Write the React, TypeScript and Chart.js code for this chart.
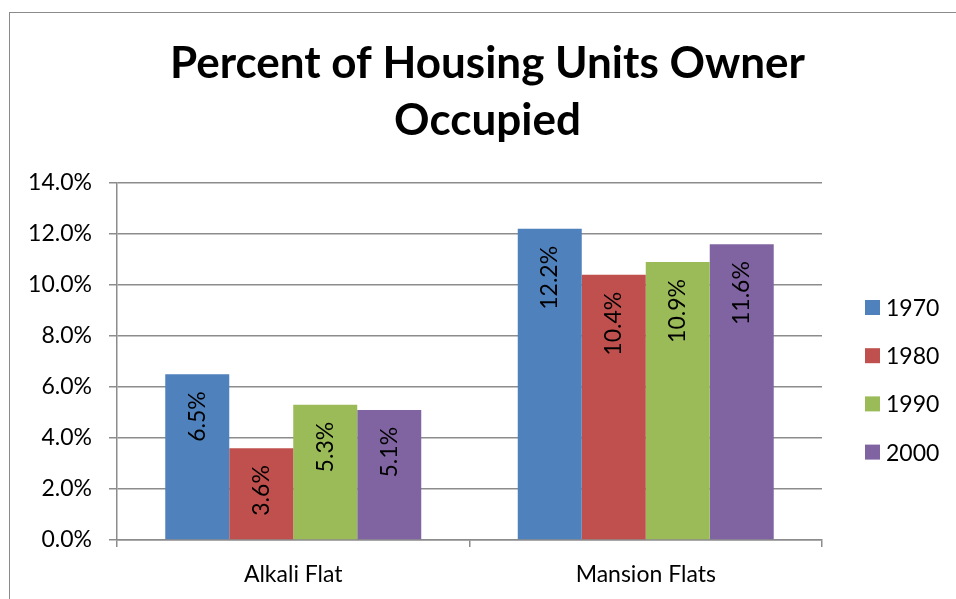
import React, { useEffect, useRef } from 'react';
import { Chart, registerables } from 'chart.js';

Chart.register(...registerables);

const categories = ['Alkali Flat', 'Mansion Flats'];
const seriesNames = ['1970', '1980', '1990', '2000'];
const values1970 = [6.5, 12.2];
const values1980 = [3.6, 10.4];
const values1990 = [5.3, 10.9];
const values2000 = [5.1, 11.6];
const seriesValues = [values1970, values1980, values1990, values2000];
const seriesColors = ['#4F81BD', '#C0504D', '#9BBB59', '#8064A2'];
const titleLines = ['Percent of Housing Units Owner', 'Occupied'];
const yMin = 0;
const yMax = 14;
const yStep = 2;

const FONT = 'Lato, "Noto Sans", sans-serif';
const GRID = '#8c8c8c';

const valueLabels = {
  id: 'valueLabels',
  afterDatasetsDraw(chart: any) {
    const ctx = chart.ctx;
    chart.data.datasets.forEach((ds: any, i: number) => {
      const meta = chart.getDatasetMeta(i);
      meta.data.forEach((bar: any, j: number) => {
        const v = ds.data[j] as number;
        ctx.save();
        ctx.translate(bar.x, bar.y + 17);
        ctx.rotate(-Math.PI / 2);
        ctx.font = `23px ${FONT}`;
        ctx.fillStyle = '#000';
        ctx.textAlign = 'right';
        ctx.textBaseline = 'middle';
        ctx.fillText(v.toFixed(1) + '%', 0, 0);
        ctx.restore();
      });
    });
  },
};

const sideLegend = {
  id: 'sideLegend',
  afterDraw(chart: any) {
    const ctx = chart.ctx;
    const x0 = chart.chartArea.right + 43;
    const yStart = 294.5;
    const gap = 48.2;
    chart.data.datasets.forEach((ds: any, i: number) => {
      const cy = yStart + i * gap;
      ctx.save();
      ctx.fillStyle = ds.backgroundColor;
      ctx.fillRect(x0, cy - 7.5, 15, 15);
      ctx.font = `23px ${FONT}`;
      ctx.fillStyle = '#000';
      ctx.textAlign = 'left';
      ctx.textBaseline = 'middle';
      ctx.fillText(ds.label, x0 + 21, cy + 1);
      ctx.restore();
    });
  },
};

export default function App() {
  const ref = useRef<HTMLCanvasElement | null>(null);

  useEffect(() => {
    if (!ref.current) return;
    const chart = new Chart(ref.current, {
      type: 'bar',
      data: {
        labels: categories,
        datasets: seriesNames.map((name, i) => ({
          label: name,
          data: seriesValues[i],
          backgroundColor: seriesColors[i],
          borderWidth: 0,
          categoryPercentage: 0.7262,
          barPercentage: 1,
          yAxisID: 'y',
        })),
      },
      options: {
        responsive: false,
        animation: false,
        layout: { padding: 0 },
        plugins: {
          legend: { display: false },
          tooltip: { enabled: false },
          title: {
            display: true,
            text: titleLines,
            color: '#000',
            font: { family: FONT, size: 44, weight: 'bold', lineHeight: 1.295 },
            padding: { top: 22, bottom: 34 },
          },
        },
        scales: {
          x: {
            grid: {
              display: true,
              drawOnChartArea: false,
              drawTicks: true,
              tickLength: 7,
              color: GRID,
              lineWidth: 1.5,
              offset: true,
            },
            border: { display: true, color: GRID, width: 1.5 },
            ticks: { color: '#000', font: { family: FONT, size: 23 }, padding: 14 },
            afterFit(scale: any) {
              scale.height = 73;
            },
          },
          y: {
            position: 'left',
            min: yMin,
            max: yMax,
            ticks: {
              stepSize: yStep,
              color: '#000',
              font: { family: FONT, size: 23 },
              padding: 17,
              callback: (v: any) => Number(v).toFixed(1) + '%',
            },
            grid: { color: GRID, lineWidth: 1.5, tickLength: 8, drawTicks: true },
            border: { display: true, color: GRID, width: 1.5 },
            afterFit(scale: any) {
              scale.width = 107;
            },
          },
          legendSpace: {
            type: 'linear',
            position: 'right',
            display: true,
            min: yMin,
            max: yMax,
            grid: { display: false, drawTicks: false, drawOnChartArea: false },
            border: { display: false },
            ticks: { display: false },
            afterFit(scale: any) {
              scale.width = 143;
            },
          },
        },
      },
      plugins: [valueLabels, sideLegend],
    });
    return () => chart.destroy();
  }, []);

  return (
    <div
      style={{
        position: 'fixed',
        left: 0,
        top: 0,
        width: 956,
        height: 599,
        overflow: 'hidden',
        background: '#fff',
      }}
    >
      <div
        style={{
          position: 'absolute',
          left: 9,
          top: 12,
          width: 955,
          height: 600,
          border: '1px solid #8a8a8a',
          background: '#fff',
        }}
      >
        <canvas ref={ref} width={955} height={600} style={{ display: 'block' }} />
      </div>
    </div>
  );
}
